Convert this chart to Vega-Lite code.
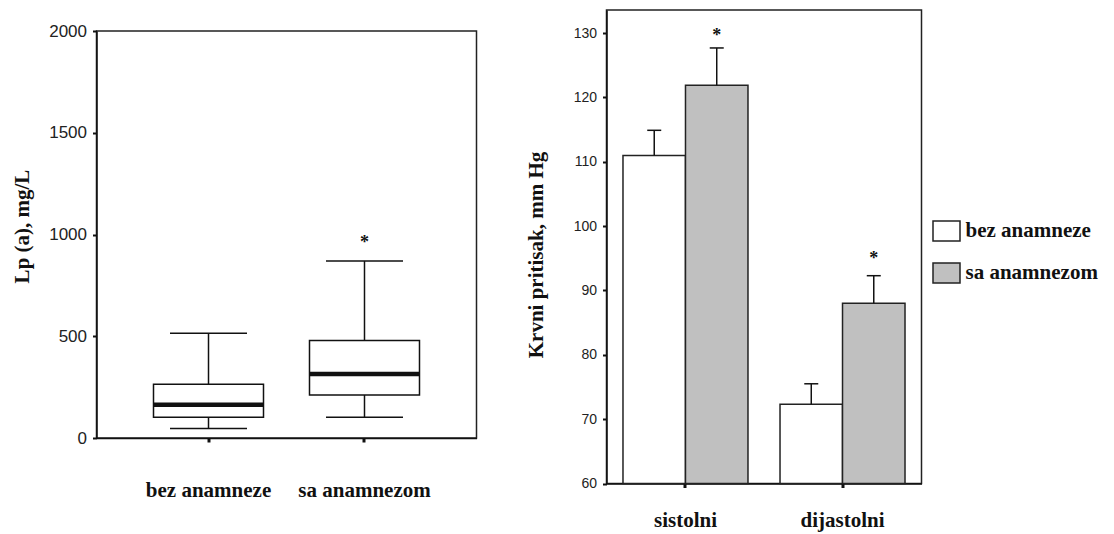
{
  "$schema": "https://vega.github.io/schema/vega-lite/v6.json",
  "padding": {"left": 10.5, "top": 9, "right": 0, "bottom": 0},
  "spacing": 47,
  "resolve": {"scale": {"fill": "independent"}},
  "config": {
    "font": "Liberation Serif",
    "view": {"stroke": "#222", "strokeWidth": 1.5},
    "axis": {"grid": false, "domainColor": "#111", "domainWidth": 1.5, "tickColor": "#111", "labelFont": "Liberation Sans", "labelColor": "#222", "titleFont": "Liberation Serif", "titleFontWeight": "bold", "titleColor": "#111", "titleFontSize": 21}
  },
  "hconcat": [
    {
      "vconcat": [
        {"width": 380, "height": 20.5, "data": {"values": [{}]}, "mark": {"type": "point", "opacity": 0}, "view": {"stroke": null}},
        {
          "width": 380, "height": 407,
          "data": {"values": [
            {"group": "bez anamneze", "lo": 47, "q1": 102, "med": 164, "q3": 264, "hi": 515, "star": null},
            {"group": "sa anamnezom", "lo": 102, "q1": 211, "med": 315, "q3": 479, "hi": 870, "star": 971}
          ]},
          "encoding": {
            "x": {"field": "group", "type": "nominal", "sort": null, "scale": {"paddingInner": 0, "paddingOuter": 0.218},
              "axis": {"title": null, "labelAngle": 0, "labelFont": "Liberation Serif", "labelFontWeight": "bold", "labelFontSize": 21, "labelColor": "#111", "tickSize": 4, "tickWidth": 3, "labelPadding": 54, "labelBaseline": "alphabetic", "labelDx": -10}}
          },
          "layer": [
            {"mark": {"type": "rule", "color": "#111", "strokeWidth": 1.5},
             "encoding": {"y": {"field": "lo", "type": "quantitative", "title": "Lp (a), mg/L", "scale": {"domain": [0, 2000], "nice": false, "zero": false},
               "axis": {"values": [0, 500, 1000, 1500, 2000], "format": "d", "labelFontSize": 17, "tickSize": 4, "tickWidth": 2, "labelPadding": 6, "titleX": -74, "titleY": 195, "titleAngle": 270, "titleBaseline": "middle", "titleAlign": "center"}},
               "y2": {"field": "hi"}}},
            {"mark": {"type": "bar", "fill": "white", "stroke": "#111", "strokeWidth": 1.5, "size": 110},
             "encoding": {"y": {"field": "q1", "type": "quantitative", "title": "Lp (a), mg/L"}, "y2": {"field": "q3"}}},
            {"mark": {"type": "tick", "color": "#111", "opacity": 1, "thickness": 4.5, "size": 110},
             "encoding": {"y": {"field": "med", "type": "quantitative", "title": "Lp (a), mg/L"}}},
            {"mark": {"type": "tick", "color": "#111", "opacity": 1, "thickness": 1.5, "size": 77},
             "encoding": {"y": {"field": "lo", "type": "quantitative", "title": "Lp (a), mg/L"}}},
            {"mark": {"type": "tick", "color": "#111", "opacity": 1, "thickness": 1.5, "size": 77},
             "encoding": {"y": {"field": "hi", "type": "quantitative", "title": "Lp (a), mg/L"}}},
            {"mark": {"type": "text", "text": "*", "fontSize": 18, "fontWeight": "bold", "baseline": "alphabetic", "dy": 8, "color": "#111"},
             "encoding": {"y": {"field": "star", "type": "quantitative", "title": "Lp (a), mg/L"}}}
          ]
        }
      ],
      "spacing": 0,
      "bounds": "flush"
    },
    {
      "width": 315, "height": 473.5,
      "data": {"values": [
        {"type": "sistolni", "group": "bez anamneze", "mean": 111, "err": 114.9, "star": null},
        {"type": "sistolni", "group": "sa anamnezom", "mean": 121.9, "err": 127.7, "star": 130},
        {"type": "dijastolni", "group": "bez anamneze", "mean": 72.3, "err": 75.5, "star": null},
        {"type": "dijastolni", "group": "sa anamnezom", "mean": 88, "err": 92.3, "star": 95.4}
      ]},
      "encoding": {
        "x": {"field": "type", "type": "nominal", "sort": ["sistolni", "dijastolni"], "scale": {"paddingInner": 0.204, "paddingOuter": 0.105},
          "axis": {"title": null, "labelAngle": 0, "labelFont": "Liberation Serif", "labelFontWeight": "bold", "labelFontSize": 21, "labelColor": "#111", "tickSize": 4, "tickWidth": 3, "labelPadding": 39, "labelBaseline": "alphabetic", "labelDx": -13}},
        "xOffset": {"field": "group", "type": "nominal", "sort": ["bez anamneze", "sa anamnezom"], "scale": {"paddingInner": 0, "paddingOuter": 0}}
      },
      "layer": [
        {"mark": {"type": "bar", "stroke": "#222", "strokeWidth": 1.5},
         "encoding": {
           "y": {"field": "mean", "type": "quantitative", "title": "Krvni pritisak, mm Hg", "scale": {"domain": [60, 133.6], "nice": false, "zero": false},
             "axis": {"values": [60, 70, 80, 90, 100, 110, 120, 130], "labelFontSize": 14, "tickSize": 4, "tickWidth": 2, "labelPadding": 6, "titleX": -70, "titleY": 244.5, "titleAngle": 270, "titleBaseline": "middle", "titleAlign": "center"}},
           "y2": {"datum": 60},
           "fill": {"field": "group", "type": "nominal", "scale": {"domain": ["bez anamneze", "sa anamnezom"], "range": ["white", "#c0c0c0"]},
             "legend": {"title": null, "orient": "none", "legendX": 329, "legendY": 210, "symbolType": "M-1.35,-1H1.35V1H-1.35Z", "symbolSize": 400, "symbolStrokeColor": "#222", "symbolStrokeWidth": 1.5, "labelFont": "Liberation Serif", "labelFontWeight": "bold", "labelFontSize": 21, "labelColor": "#111", "labelOffset": 8, "rowPadding": 16, "padding": 0}}
         }},
        {"mark": {"type": "rule", "color": "#111", "strokeWidth": 1.5},
         "encoding": {"y": {"field": "mean", "type": "quantitative", "title": "Krvni pritisak, mm Hg"}, "y2": {"field": "err"}}},
        {"mark": {"type": "tick", "color": "#111", "opacity": 1, "thickness": 1.5, "size": 14},
         "encoding": {"y": {"field": "err", "type": "quantitative", "title": "Krvni pritisak, mm Hg"}}},
        {"mark": {"type": "text", "text": "*", "fontSize": 18, "fontWeight": "bold", "baseline": "alphabetic", "dy": 8, "color": "#111"},
         "encoding": {"y": {"field": "star", "type": "quantitative", "title": "Krvni pritisak, mm Hg"}}}
      ]
    }
  ]
}
